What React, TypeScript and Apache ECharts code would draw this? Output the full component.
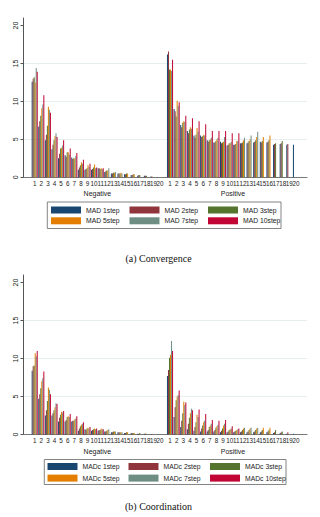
import React, { useEffect, useRef } from "react";
import * as echarts from "echarts";

// Horizon k shown on each category axis
const kLabels = ["1", "2", "3", "4", "5", "6", "7", "8", "9", "10", "11", "12", "13", "14", "15", "16", "17", "18", "19", "20"];
const steps = ["1step", "2step", "3step", "5step", "7step", "10step"];
const stepColors = ["#1a476f", "#90353b", "#55752f", "#e37e00", "#6e8e84", "#c10534"];
const yTicks = [0, 5, 10, 15, 20];

// (a) Convergence, negative side: one row per step (1, 2, 3, 5, 7, 10)
const convNeg1 = [12.6, 6.7, 4.9, 3.7, 2.5, 2.9, 2.6, 1.0, 1.0, 1.0, 1.2, 0.7, 0.5, 0.5, 0.4, 0.3, 0.2, 0.2, 0.1, 0.05];
const convNeg2 = [13.0, 7.4, 5.6, 4.3, 3.1, 2.7, 2.4, 1.3, 1.1, 1.1, 1.2, 0.8, 0.5, 0.5, 0.4, 0.3, 0.3, 0.2, 0.1, null];
const convNeg3 = [13.2, 8.1, 6.8, 4.9, 3.8, 3.3, 2.5, 1.6, 1.2, 1.3, 1.1, 0.9, 0.6, 0.5, 0.5, 0.4, 0.3, 0.2, null, null];
const convNeg5 = [12.5, 9.1, 9.3, 5.4, 3.9, 3.3, 2.5, 2.0, 1.6, 1.7, 1.2, 0.9, 0.6, 0.6, 0.5, 0.4, null, null, null, null];
const convNeg7 = [14.4, 9.6, 8.9, 5.8, 4.2, 3.0, 2.8, 1.8, 1.4, 1.2, 1.1, 1.2, 0.7, 0.5, null, null, null, null, null, null];
const convNeg10 = [13.9, 10.8, 8.5, 5.3, 4.9, 3.8, 3.2, 2.3, 1.8, 1.3, 1.2, null, null, null, null, null, null, null, null, null];

// (a) Convergence, positive side
const convPos1 = [16.2, 9.0, 6.9, 6.1, 5.5, 5.5, 4.9, 4.6, 4.7, 4.2, 4.3, 4.5, 4.5, 4.6, 4.7, 4.6, 4.3, 4.4, 4.3, 4.3];
const convPos2 = [16.6, 8.7, 6.6, 5.8, 5.2, 5.3, 4.7, 4.6, 4.5, 4.3, 4.3, 4.5, 4.6, 4.7, 4.6, 4.7, 4.4, 4.5, 4.4, null];
const convPos3 = [14.2, 8.0, 7.2, 6.3, 5.6, 5.4, 4.9, 4.8, 4.6, 4.5, 4.4, 4.6, 4.8, 4.9, 4.8, 4.9, 4.5, 4.8, null, null];
const convPos5 = [14.2, 10.1, 7.4, 6.6, 6.5, 5.6, 5.0, 5.0, 4.7, 4.5, 4.8, 4.9, 5.0, 5.3, 5.3, 5.5, null, null, null, null];
const convPos7 = [14.0, 9.4, 7.3, 6.4, 6.0, 5.5, 5.2, 5.2, 5.3, 4.7, 4.8, 5.2, 5.5, 6.0, null, null, null, null, null, null];
const convPos10 = [15.5, 9.9, 8.1, 7.8, 7.4, 7.0, 6.1, 6.1, 6.1, 5.8, 5.8, null, null, null, null, null, null, null, null, null];

// (b) Coordination, negative side
const coordNeg1 = [8.4, 4.7, 2.5, 2.5, 1.7, 1.7, 1.7, 0.5, 0.7, 0.5, 0.5, 0.4, 0.3, 0.3, 0.2, 0.2, 0.1, 0.1, 0.05, 0.03];
const coordNeg2 = [9.0, 5.3, 3.2, 2.8, 2.2, 1.9, 1.8, 0.8, 0.6, 0.6, 0.6, 0.4, 0.3, 0.3, 0.2, 0.2, 0.1, 0.1, 0.05, null];
const coordNeg3 = [9.1, 6.1, 4.4, 3.2, 2.6, 2.3, 1.8, 1.1, 0.8, 0.7, 0.6, 0.5, 0.4, 0.3, 0.3, 0.2, 0.2, 0.1, null, null];
const coordNeg5 = [10.7, 7.0, 6.2, 3.6, 3.0, 2.4, 2.0, 1.3, 0.9, 0.8, 0.8, 0.6, 0.4, 0.3, 0.3, 0.2, null, null, null, null];
const coordNeg7 = [10.3, 7.4, 5.9, 4.1, 2.9, 2.3, 2.1, 1.4, 0.8, 0.7, 0.7, 0.7, 0.4, 0.3, null, null, null, null, null, null];
const coordNeg10 = [11.0, 8.3, 5.3, 4.0, 3.1, 2.7, 2.4, 1.6, 1.0, 0.8, 0.7, null, null, null, null, null, null, null, null, null];

// (b) Coordination, positive side
const coordPos1 = [7.7, 2.3, 1.0, 0.7, 0.5, 0.4, 0.4, 0.4, 0.3, 0.3, 0.3, 0.3, 0.3, 0.3, 0.3, 0.3, 0.2, 0.2, 0.1, 0.1];
const coordPos2 = [8.5, 3.6, 1.8, 1.4, 1.0, 0.8, 0.6, 0.6, 0.5, 0.4, 0.4, 0.4, 0.4, 0.4, 0.4, 0.4, 0.3, 0.3, 0.3, null];
const coordPos3 = [10.1, 4.5, 2.8, 2.2, 1.6, 1.2, 1.0, 0.9, 0.8, 0.6, 0.5, 0.6, 0.6, 0.6, 0.6, 0.6, 0.6, 0.4, null, null];
const coordPos5 = [10.5, 5.0, 4.3, 2.8, 2.6, 1.6, 1.2, 1.1, 1.2, 0.7, 0.6, 0.8, 0.8, 0.8, 0.9, 0.9, null, null, null, null];
const coordPos7 = [12.3, 5.2, 3.9, 3.4, 2.3, 1.8, 1.4, 1.3, 1.4, 0.8, 0.7, 0.9, 0.9, 0.9, null, null, null, null, null, null];
const coordPos10 = [11.0, 5.8, 4.2, 3.2, 3.3, 2.7, 1.9, 1.8, 1.9, 1.1, 0.8, null, null, null, null, null, null, null, null, null];

const SANS = "'Liberation Sans', Arial, sans-serif";
const SERIF = "'Liberation Serif', 'Times New Roman', serif";
const TEXT = "#222";
const GRID_LINE = "#e6eef0";

const panels = [
  {
    prefix: "MAD",
    neg: [convNeg1, convNeg2, convNeg3, convNeg5, convNeg7, convNeg10],
    pos: [convPos1, convPos2, convPos3, convPos5, convPos7, convPos10],
    top: 18,
    bottom: 177.3,
    legendTop: 205.5,
    legendGap: 1.8,
    legendCols: [51, 129.5, 208],
    box: [47.3, 202, 233.7, 26.5],
    title: "(a) Convergence",
    titleY: 258,
  },
  {
    prefix: "MADc",
    neg: [coordNeg1, coordNeg2, coordNeg3, coordNeg5, coordNeg7, coordNeg10],
    pos: [coordPos1, coordPos2, coordPos3, coordPos5, coordPos7, coordPos10],
    top: 275,
    bottom: 434.5,
    legendTop: 462,
    legendGap: 2.6,
    legendCols: [47.5, 128.5, 210],
    box: [44.3, 459.5, 241.7, 25],
    title: "(b) Coordination",
    titleY: 506,
  },
];

function buildOption() {
  const grid: any[] = [];
  const xAxis: any[] = [];
  const yAxis: any[] = [];
  const series: any[] = [];
  const legend: any[] = [];
  const graphic: any[] = [];

  panels.forEach((p) => {
    const height = p.bottom - p.top;
    const base = grid.length;

    // backdrop grid: y axis, gridlines and the zero baseline spanning both groups
    grid.push({ left: 23.5, top: p.top, width: 283.5, height });
    xAxis.push({
      type: "value",
      gridIndex: base,
      min: 0,
      max: 1,
      axisLine: { show: true, lineStyle: { color: "#777", width: 1 } },
      axisTick: { show: false },
      axisLabel: { show: false },
      splitLine: { show: false },
    });
    yAxis.push({
      type: "value",
      gridIndex: base,
      min: 0,
      max: 21,
      interval: 5,
      axisLine: { show: true, lineStyle: { color: "#555", width: 1 } },
      axisTick: { show: true, length: 3, customValues: yTicks, lineStyle: { color: "#555" } },
      axisLabel: {
        customValues: yTicks,
        rotate: 90,
        fontSize: 7,
        margin: 5,
        color: TEXT,
        fontFamily: SANS,
      },
      splitLine: {
        show: true,
        lineStyle: {
          color: ["transparent", GRID_LINE, GRID_LINE, GRID_LINE, "transparent", "transparent"],
          width: 1,
        },
      },
    });

    const groups = [
      { name: "Negative", left: 31.4, width: 132, data: p.neg },
      { name: "Positive", left: 166.7, width: 132.6, data: p.pos },
    ];
    groups.forEach((g) => {
      const gi = grid.length;
      grid.push({ left: g.left, top: p.top, width: g.width, height });
      xAxis.push({
        type: "category",
        gridIndex: gi,
        data: kLabels,
        axisLine: { show: false },
        axisTick: { show: false },
        axisLabel: { interval: 0, fontSize: 6.3, margin: 3, color: TEXT, fontFamily: SANS },
        name: g.name,
        nameLocation: "middle",
        nameGap: 13,
        nameTextStyle: { fontSize: 7, color: TEXT, fontFamily: SANS },
      });
      yAxis.push({ type: "value", gridIndex: gi, min: 0, max: 21, show: false });
      g.data.forEach((vals, i) => {
        series.push({
          type: "bar",
          name: `${p.prefix} ${steps[i]}`,
          xAxisIndex: gi,
          yAxisIndex: gi,
          data: vals,
          barGap: "0%",
          barCategoryGap: "8%",
          itemStyle: { color: stepColors[i] },
        });
      });
    });

    // legend: three columns, two rows
    p.legendCols.forEach((left, c) => {
      legend.push({
        orient: "vertical",
        left,
        top: p.legendTop,
        padding: 0,
        itemGap: p.legendGap,
        itemWidth: 30,
        itemHeight: 7,
        icon: "rect",
        selectedMode: false,
        data: [`${p.prefix} ${steps[c]}`, `${p.prefix} ${steps[c + 3]}`],
        textStyle: { fontSize: 6.8, lineHeight: 9, color: TEXT, fontFamily: SANS },
      });
    });
    graphic.push({
      type: "rect",
      shape: { x: p.box[0], y: p.box[1], width: p.box[2], height: p.box[3] },
      style: { fill: "none", stroke: "#666", lineWidth: 0.8 },
      silent: true,
    });
    graphic.push({
      type: "text",
      x: 158.5,
      y: p.titleY,
      style: {
        text: p.title,
        font: `10px ${SERIF}`,
        fill: "#111",
        textAlign: "center",
        textVerticalAlign: "middle",
      },
      silent: true,
    });
  });

  return {
    animation: false,
    backgroundColor: "#ffffff",
    grid,
    xAxis,
    yAxis,
    series,
    legend,
    graphic,
  };
}

export default function App() {
  const ref = useRef<HTMLDivElement>(null);

  useEffect(() => {
    document.body.style.margin = "0";
    if (!ref.current) return;
    const chart = echarts.init(ref.current, null, { renderer: "svg" });
    chart.setOption(buildOption());
    return () => {
      chart.dispose();
    };
  }, []);

  return <div ref={ref} style={{ width: 320, height: 517 }} />;
}
